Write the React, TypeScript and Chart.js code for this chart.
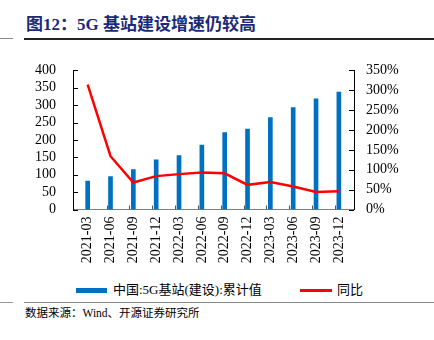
import React, { useEffect, useRef } from "react";
import { Chart, registerables } from "chart.js";

Chart.register(...registerables);

const categories = [
  "2021-03", "2021-06", "2021-09", "2021-12",
  "2022-03", "2022-06", "2022-09", "2022-12",
  "2023-03", "2023-06", "2023-09", "2023-12",
];
const cumulative = [82, 95, 115, 143, 155, 185, 221, 231, 264, 293, 318, 338];
const yoy = [314, 134, 68, 84, 89, 93, 91, 62, 69, 58, 44, 46];
const leftTicks = [0, 50, 100, 150, 200, 250, 300, 350, 400];
const rightTicks = [0, 50, 100, 150, 200, 250, 300, 350];

const BAR_NAME = "中国:5G基站(建设):累计值";
const LINE_NAME = "同比";
const TITLE = "图12：5G 基站建设增速仍较高";
const SOURCE = "数据来源：Wind、开源证券研究所";

const FONT = '"Liberation Serif", "Noto Sans CJK SC", serif';

export default function App() {
  const ref = useRef<HTMLCanvasElement>(null);

  useEffect(() => {
    if (!ref.current) return;
    const innerTicks = {
      id: "innerTicks",
      afterDraw(chart: any) {
        const ctx = chart.ctx;
        const area = chart.chartArea;
        const yl = chart.scales.y;
        const yr = chart.scales.y1;
        const x = chart.scales.x;
        ctx.save();
        ctx.lineWidth = 1;
        ctx.strokeStyle = "#000";
        leftTicks.forEach((v) => {
          const py = Math.round(yl.getPixelForValue(v)) + 0.5;
          ctx.beginPath();
          ctx.moveTo(area.left, py);
          ctx.lineTo(area.left + 5, py);
          ctx.stroke();
        });
        rightTicks.forEach((v) => {
          const py = Math.round(yr.getPixelForValue(v)) + 0.5;
          ctx.beginPath();
          ctx.moveTo(area.right, py);
          ctx.lineTo(area.right - 5, py);
          ctx.stroke();
        });
        ctx.strokeStyle = "#555";
        for (let i = 1; i < categories.length; i++) {
          const px = Math.round(x.getPixelForValue(i - 0.17)) + 0.5;
          ctx.beginPath();
          ctx.moveTo(px, area.bottom);
          ctx.lineTo(px, area.bottom - 4);
          ctx.stroke();
        }
        ctx.restore();
      },
    };

    const chart = new Chart(ref.current, {
      type: "bar",
      data: {
        datasets: [
          {
            type: "line",
            label: LINE_NAME,
            data: yoy.map((v, i) => ({ x: i, y: v })),
            yAxisID: "y1",
            borderColor: "#FF0000",
            backgroundColor: "#FF0000",
            borderWidth: 2.5,
            pointRadius: 0,
            tension: 0,
            order: 0,
          },
          {
            type: "bar",
            label: BAR_NAME,
            data: cumulative.map((v, i) => ({ x: i, y: v })),
            yAxisID: "y",
            backgroundColor: "#0070C0",
            barThickness: 4,
            order: 1,
          },
        ],
      },
      options: {
        animation: false,
        responsive: false,
        maintainAspectRatio: false,
        layout: { padding: { left: 0, right: 0, top: 15, bottom: 0 } },
        plugins: {
          legend: { display: false },
          tooltip: { enabled: false },
        },
        scales: {
          x: {
            type: "linear",
            min: -0.13,
            max: 11.15,
            afterBuildTicks: (scale: any) => {
              scale.ticks = categories.map((_, i) => ({ value: i }));
            },
            ticks: {
              callback: (v: any) => categories[v as number] ?? "",
              maxRotation: 90,
              minRotation: 90,
              autoSkip: false,
              padding: 7,
              color: "#000",
              font: { family: FONT, size: 14 },
            },
            grid: { display: false, drawTicks: false },
            border: { display: true, color: "#808080", width: 1 },
            afterFit: (scale: any) => {
              scale.height = 70.5;
            },
          },
          y: {
            position: "left",
            min: 0,
            max: 400,
            afterBuildTicks: (scale: any) => {
              scale.ticks = leftTicks.map((v) => ({ value: v }));
            },
            ticks: {
              autoSkip: false,
              padding: 17,
              color: "#000",
              font: { family: FONT, size: 14 },
            },
            grid: { display: false, drawTicks: false },
            border: { display: true, color: "#000", width: 1 },
            afterFit: (scale: any) => {
              scale.width = 73;
            },
          },
          y1: {
            position: "right",
            min: 0,
            max: 350,
            afterBuildTicks: (scale: any) => {
              scale.ticks = rightTicks.map((v) => ({ value: v }));
            },
            ticks: {
              autoSkip: false,
              padding: 12,
              color: "#000",
              font: { family: FONT, size: 14 },
              callback: (v: any) => `${v}%`,
            },
            grid: { display: false, drawTicks: false },
            border: { display: true, color: "#000", width: 1 },
            afterFit: (scale: any) => {
              scale.width = 80;
            },
          },
        },
      },
      plugins: [innerTicks],
    } as any);
    return () => chart.destroy();
  }, []);

  return (
    <div
      style={{
        position: "fixed",
        left: 0,
        top: 0,
        width: 434,
        height: 340,
        background: "#fff",
        overflow: "hidden",
        fontFamily: FONT,
      }}
    >
      <div
        style={{
          position: "absolute",
          left: 26,
          top: 14,
          fontSize: 17,
          fontWeight: "bold",
          color: "#1B2A78",
          whiteSpace: "nowrap",
          lineHeight: "22px",
        }}
      >
        {TITLE}
      </div>
      <div style={{ position: "absolute", left: 0, top: 38, width: 13, height: 1, background: "#888" }} />
      <div style={{ position: "absolute", left: 24, top: 38, width: 410, height: 1.5, background: "#222" }} />
      <canvas
        ref={ref}
        width={434}
        height={235}
        style={{ position: "absolute", left: 0, top: 45, width: 434, height: 235 }}
      />
      <div style={{ position: "absolute", left: 76, top: 287.5, width: 31, height: 5, background: "#0070C0" }} />
      <div
        style={{
          position: "absolute",
          left: 113,
          top: 281,
          fontSize: 13,
          lineHeight: "18px",
          color: "#000",
          whiteSpace: "nowrap",
        }}
      >
        {BAR_NAME}
      </div>
      <div style={{ position: "absolute", left: 300, top: 289, width: 32, height: 2.5, background: "#FF0000" }} />
      <div
        style={{
          position: "absolute",
          left: 337,
          top: 281,
          fontSize: 13,
          lineHeight: "18px",
          color: "#000",
          whiteSpace: "nowrap",
        }}
      >
        {LINE_NAME}
      </div>
      <div style={{ position: "absolute", left: 0, top: 302, width: 13, height: 1, background: "#999" }} />
      <div style={{ position: "absolute", left: 24, top: 302, width: 410, height: 1, background: "#888" }} />
      <div
        style={{
          position: "absolute",
          left: 25,
          top: 305,
          fontSize: 11.5,
          lineHeight: "16px",
          color: "#000",
          whiteSpace: "nowrap",
        }}
      >
        {SOURCE}
      </div>
    </div>
  );
}
